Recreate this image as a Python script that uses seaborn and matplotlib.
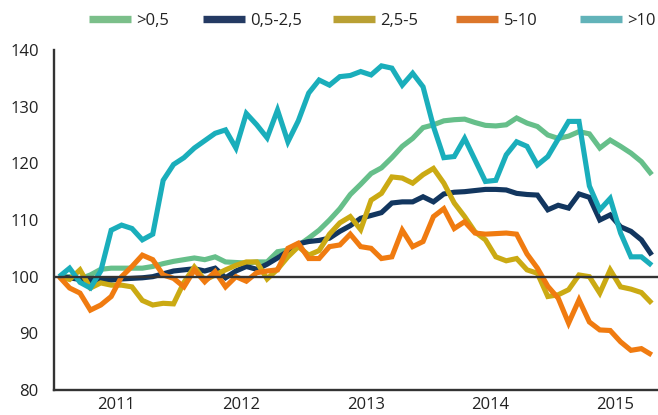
import numpy as np
import pandas as pd
import matplotlib
matplotlib.use("Agg")
import matplotlib.pyplot as plt
from matplotlib.lines import Line2D
import seaborn as sns

# ---- data (monthly index, Jan 2011 = 0) ----
series_names = [">0,5", "0,5-2,5", "2,5-5", "5-10", ">10"]
years = ["2011", "2012", "2013", "2014", "2015"]
y_ticks = [80, 90, 100, 110, 120, 130, 140]

s_gt05 = [100, 100, 99.6, 100.3, 101.3, 101.5, 101.5, 101.5, 101.5, 101.8,
          102.3, 102.7, 103, 103.3, 103, 103.5, 102.6, 102.5, 102.4, 102.6,
          102.6, 104.4, 104.7, 105.5, 106.8, 108.2, 110, 112, 114.5, 116.3,
          118.2, 119.2, 121, 123, 124.4, 126.3, 126.8, 127.5, 127.7, 127.8,
          127.2, 126.7, 126.6, 126.8, 128, 127.1, 126.5, 125, 124.4, 124.8,
          125.6, 125.2, 122.7, 124.1, 123, 121.8, 120.3, 118]
s_05_25 = [100, 99.8, 99.5, 99.3, 99.4, 99.4, 99.6, 99.7, 99.8, 100,
           100.5, 101, 101.2, 101.4, 101, 101.5, 99.8, 101, 101.8, 101.3,
           102.2, 103.3, 104.5, 105.8, 106.2, 106.4, 106.8, 108, 109, 110.3,
           110.8, 111.3, 113, 113.2, 113.2, 114.1, 113.2, 114.6, 114.9, 115,
           115.2, 115.4, 115.4, 115.3, 114.7, 114.5, 114.4, 111.8, 112.6, 112.1,
           114.6, 114, 110, 110.9, 108.8, 108, 106.5, 103.8]
s_25_5 = [100, 99.5, 101.2, 98, 98.9, 98.5, 98.5, 98.2, 95.8, 95,
          95.3, 95.2, 99, 101.7, 99.4, 100.3, 101.2, 102, 102.6, 102.6,
          99.6, 101.3, 103.5, 105.3, 103.8, 104.6, 107.5, 109.5, 110.6, 108.3,
          113.5, 114.7, 117.6, 117.4, 116.5, 118, 119.1, 116.5, 113, 110.6,
          107.9, 106.5, 103.5, 102.8, 103.2, 101.2, 100.6, 96.5, 96.8, 97.7,
          100.3, 100, 97.1, 101.2, 98.2, 97.8, 97.2, 95.3]
s_5_10 = [100, 98, 97.1, 94.1, 95, 96.5, 100, 101.8, 103.8, 103,
          100.3, 99.7, 98.2, 101.2, 99.1, 100.9, 98.2, 100, 99.2, 100.7,
          101, 101.2, 105, 105.9, 103.2, 103.2, 105.3, 105.6, 107.5, 105.3,
          105, 103.2, 103.5, 108.2, 105.3, 106.2, 110.6, 112, 108.5, 109.7,
          107.7, 107.5, 107.6, 107.7, 107.5, 104, 101.5, 98.3, 96.2, 91.8,
          95.9, 92, 90.6, 90.5, 88.5, 87, 87.3, 86.2]
s_gt10 = [100, 101.5, 99, 98, 101, 108.2, 109.1, 108.5, 106.5, 107.5,
          117, 119.8, 121, 122.7, 124, 125.3, 125.9, 122.7, 128.8, 126.8,
          124.5, 129.4, 123.8, 127.5, 132.4, 134.7, 133.8, 135.3, 135.5, 136.2,
          135.6, 137.2, 136.8, 133.8, 135.9, 133.5, 126.5, 121, 121.2, 124.4,
          120.6, 116.8, 117, 121.5, 123.8, 123, 119.7, 121.2, 124.3, 127.4,
          127.4, 116, 111.8, 113.8, 107.7, 103.5, 103.5, 102]

line_colors = ["#66bf8a", "#12365f", "#cbaa13", "#f07b10", "#1aaebb"]
legend_colors = ["#7bbf8a", "#243a63", "#b9a033", "#dc762a", "#62b3b9"]

all_series = [s_gt05, s_05_25, s_25_5, s_5_10, s_gt10]
frames = []
for name, vals in zip(series_names, all_series):
    frames.append(pd.DataFrame({"month": np.arange(len(vals)), "value": vals, "series": name}))
df = pd.concat(frames, ignore_index=True)

sns.set_style("white")
plt.rcParams["font.family"] = ["Open Sans", "DejaVu Sans"]
text_color = "#222222"
axis_color = "#333333"

W, H = 658, 415
fig = plt.figure(figsize=(W / 100, H / 100), dpi=100)
ax = fig.add_axes([54 / W, 1 - 390 / H, (W - 54) / W, (390 - 50) / H])

sns.lineplot(data=df, x="month", y="value", hue="series", hue_order=series_names,
             palette=line_colors, linewidth=3.7, ax=ax, legend=False,
             solid_joinstyle="miter", solid_capstyle="butt")

ax.axhline(100, color=axis_color, lw=1.7, zorder=10)

ax.set_xlim(-0.5, 57.6)
ax.set_ylim(80, 140)
ax.set_yticks(y_ticks)
ax.set_yticklabels([str(v) for v in y_ticks], fontsize=12, color=text_color)

boundaries = [-0.5 + 12 * k for k in range(len(years))]
mids = [5.5 + 12 * k for k in range(len(years))]
ax.set_xticks(mids)
ax.set_xticklabels(years, fontsize=12, color=text_color)
ax.set_xticks(boundaries, minor=True)
ax.tick_params(axis="x", which="major", length=0, pad=5)
ax.tick_params(axis="x", which="minor", length=7.5, width=1.4, color=axis_color, direction="out")
ax.tick_params(axis="y", length=5, width=1.4, color=axis_color, pad=6, direction="out")
ax.set_xlabel("")
ax.set_ylabel("")

for side in ["top", "right"]:
    ax.spines[side].set_visible(False)
for side in ["left", "bottom"]:
    ax.spines[side].set_color(axis_color)
    ax.spines[side].set_linewidth(1.7)

# legend entries placed individually
handle_x = [89, 203, 333, 456, 580]
for name, col, hx in zip(series_names, legend_colors, handle_x):
    h = Line2D([], [], color=col, lw=5.3, solid_capstyle="butt")
    leg = fig.legend([h], [name], loc="center left",
                     bbox_to_anchor=(hx / W, 1 - 21 / H), bbox_transform=fig.transFigure,
                     frameon=False, borderpad=0, borderaxespad=0,
                     handlelength=2.5, handletextpad=0.35,
                     prop={"size": 12})
    for t in leg.get_texts():
        t.set_color(text_color)

fig.savefig("out.png", dpi=100)
